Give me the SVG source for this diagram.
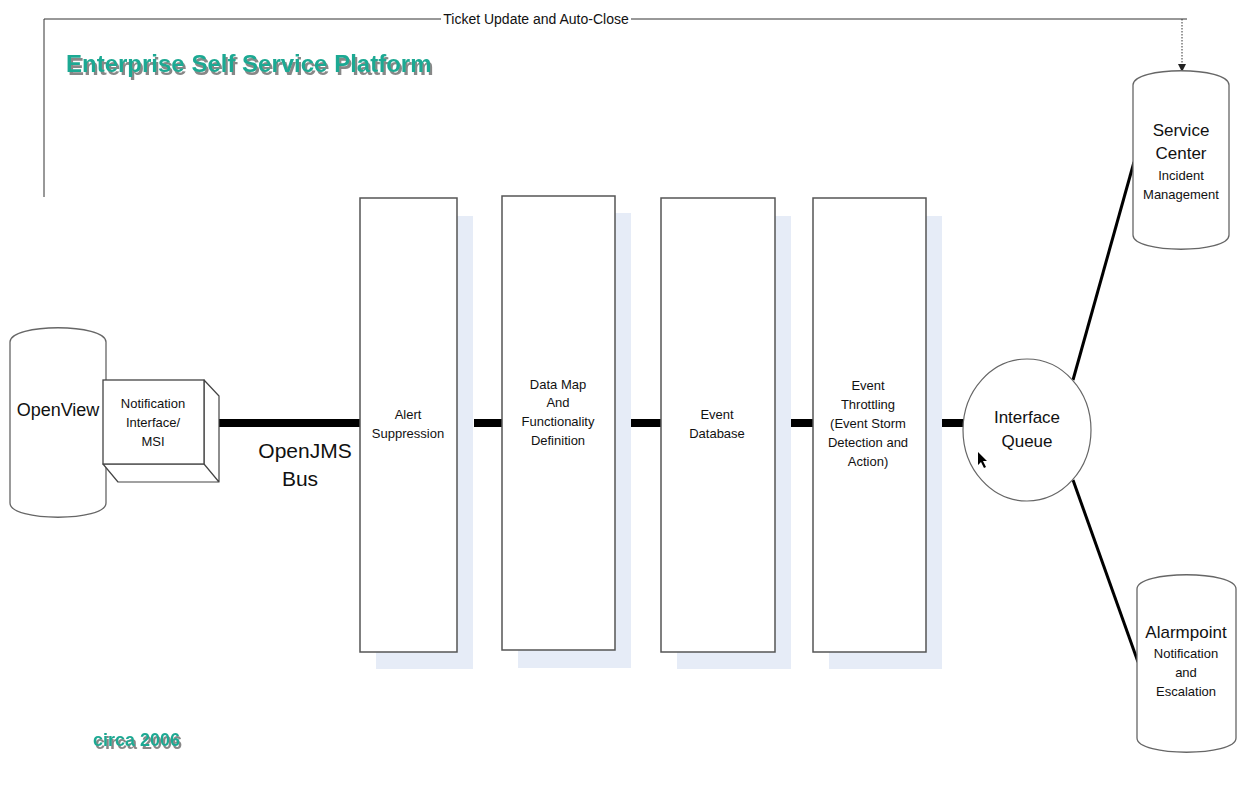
<svg xmlns="http://www.w3.org/2000/svg" width="1249" height="790" viewBox="0 0 1249 790">
<defs>
<style>
.box{fill:#fff;stroke:#555;stroke-width:1.5}
.shadow{fill:#e6ecf7;stroke:none}
.cyl{fill:#fff;stroke:#666;stroke-width:1.3}
.t{font-family:"Liberation Sans",Arial,sans-serif;fill:#111;text-anchor:middle}
.s13{font-size:13px}
.s17{font-size:17px}
.bus{stroke:#000;stroke-width:8;fill:none}
.link{stroke:#000;stroke-width:3;fill:none}
.thin{stroke:#333;stroke-width:1;fill:none}
.title{font-family:"Liberation Sans",Arial,sans-serif;font-weight:bold;fill:#1fa993;filter:url(#ds)}
</style>
<filter id="ds" x="-10%" y="-30%" width="120%" height="170%">
<feDropShadow dx="2" dy="3" stdDeviation="0.7" flood-color="#7a7a7a" flood-opacity="0.9"/>
</filter>
<marker id="arr" markerWidth="8" markerHeight="8" refX="7" refY="4" orient="auto" markerUnits="userSpaceOnUse">
<path d="M0,0 L8,4 L0,8 z" fill="#222"/>
</marker>
</defs>
<rect width="1249" height="790" fill="#fff"/>

<g id="title">
<text class="title" x="66" y="72" font-size="24">Enterprise Self Service Platform</text>
</g>
<g id="circa">
<text class="title" x="93" y="746" font-size="18">circa 2006</text>
</g>

<g id="connectors">
<polyline class="thin" points="44,197 44,19 1187,19"/>
<rect x="441" y="10" width="190" height="18" fill="#fff"/>
<text class="t" x="536" y="24" font-size="14">Ticket Update and Auto-Close</text>
<line x1="1182" y1="19" x2="1182" y2="71" stroke="#333" stroke-width="1" stroke-dasharray="1.5,1.5" marker-end="url(#arr)"/>
<line class="bus" x1="219" y1="423" x2="360" y2="423"/>
<line class="bus" x1="474" y1="423" x2="502" y2="423"/>
<line class="bus" x1="631" y1="423" x2="661" y2="423"/>
<line class="bus" x1="791" y1="423" x2="813" y2="423"/>
<line class="bus" x1="942" y1="423" x2="966" y2="423"/>
<line class="link" x1="1073" y1="380" x2="1134" y2="162"/>
<line class="link" x1="1073" y1="480" x2="1138" y2="662"/>
</g>

<g id="openview">
<path class="cyl" d="M10,342 C10,323 106,323 106,342 L106,503 C106,522 10,522 10,503 Z"/>
<text class="t" x="58" y="416" font-size="18">OpenView</text>
</g>

<g id="notification">
<path d="M103,464 L204,464 L219,482 L118,482 Z M204,380 L219,396 L219,482 L204,464 Z" fill="#fff" stroke="#444" stroke-width="1.2" stroke-linejoin="round"/>
<rect x="103" y="380" width="101" height="84" fill="#fff" stroke="#444" stroke-width="1.3"/>
<text class="t s13" x="153" y="408">Notification</text>
<text class="t s13" x="153" y="427">Interface/</text>
<text class="t s13" x="153" y="446">MSI</text>
</g>

<g id="openjms">
<text class="t" x="305" y="458" font-size="21">OpenJMS</text>
<text class="t" x="300" y="486" font-size="21">Bus</text>
</g>

<g id="alert">
<rect class="shadow" x="376" y="216" width="97" height="453"/>
<rect class="box" x="360" y="198" width="97" height="454"/>
<text class="t s13" x="408" y="419">Alert</text>
<text class="t s13" x="408" y="438">Suppression</text>
</g>

<g id="datamap">
<rect class="shadow" x="518" y="213" width="113" height="455"/>
<rect class="box" x="502" y="196" width="113" height="454"/>
<text class="t s13" x="558" y="389">Data Map</text>
<text class="t s13" x="558" y="407">And</text>
<text class="t s13" x="558" y="426">Functionality</text>
<text class="t s13" x="558" y="445">Definition</text>
</g>

<g id="eventdb">
<rect class="shadow" x="677" y="216" width="114" height="453"/>
<rect class="box" x="661" y="198" width="114" height="454"/>
<text class="t s13" x="717" y="419">Event</text>
<text class="t s13" x="717" y="438">Database</text>
</g>

<g id="throttling">
<rect class="shadow" x="829" y="216" width="113" height="453"/>
<rect class="box" x="813" y="198" width="113" height="454"/>
<text class="t s13" x="868" y="390">Event</text>
<text class="t s13" x="868" y="409">Throttling</text>
<text class="t s13" x="868" y="428">(Event Storm</text>
<text class="t s13" x="868" y="447">Detection and</text>
<text class="t s13" x="868" y="466">Action)</text>
</g>

<g id="queue">
<ellipse cx="1027" cy="430" rx="64" ry="71" fill="#fff" stroke="#666" stroke-width="1.2"/>
<text class="t s17" x="1027" y="423">Interface</text>
<text class="t s17" x="1027" y="447">Queue</text>
<path d="M978,452 L978,465 L981,462 L984,468 L986,467 L983,461 L987,461 Z" fill="#000"/>
</g>

<g id="servicecenter">
<path class="cyl" d="M1133,85 C1133,66 1229,66 1229,85 L1229,235 C1229,254 1133,254 1133,235 Z"/>
<text class="t s17" x="1181" y="136">Service</text>
<text class="t s17" x="1181" y="159">Center</text>
<text class="t s13" x="1181" y="180">Incident</text>
<text class="t s13" x="1181" y="199">Management</text>
</g>

<g id="alarmpoint">
<path class="cyl" d="M1137,589 C1137,570 1236,570 1236,589 L1236,738 C1236,757 1137,757 1137,738 Z"/>
<text class="t s17" x="1186" y="638">Alarmpoint</text>
<text class="t s13" x="1186" y="658">Notification</text>
<text class="t s13" x="1186" y="677">and</text>
<text class="t s13" x="1186" y="696">Escalation</text>
</g>
</svg>
